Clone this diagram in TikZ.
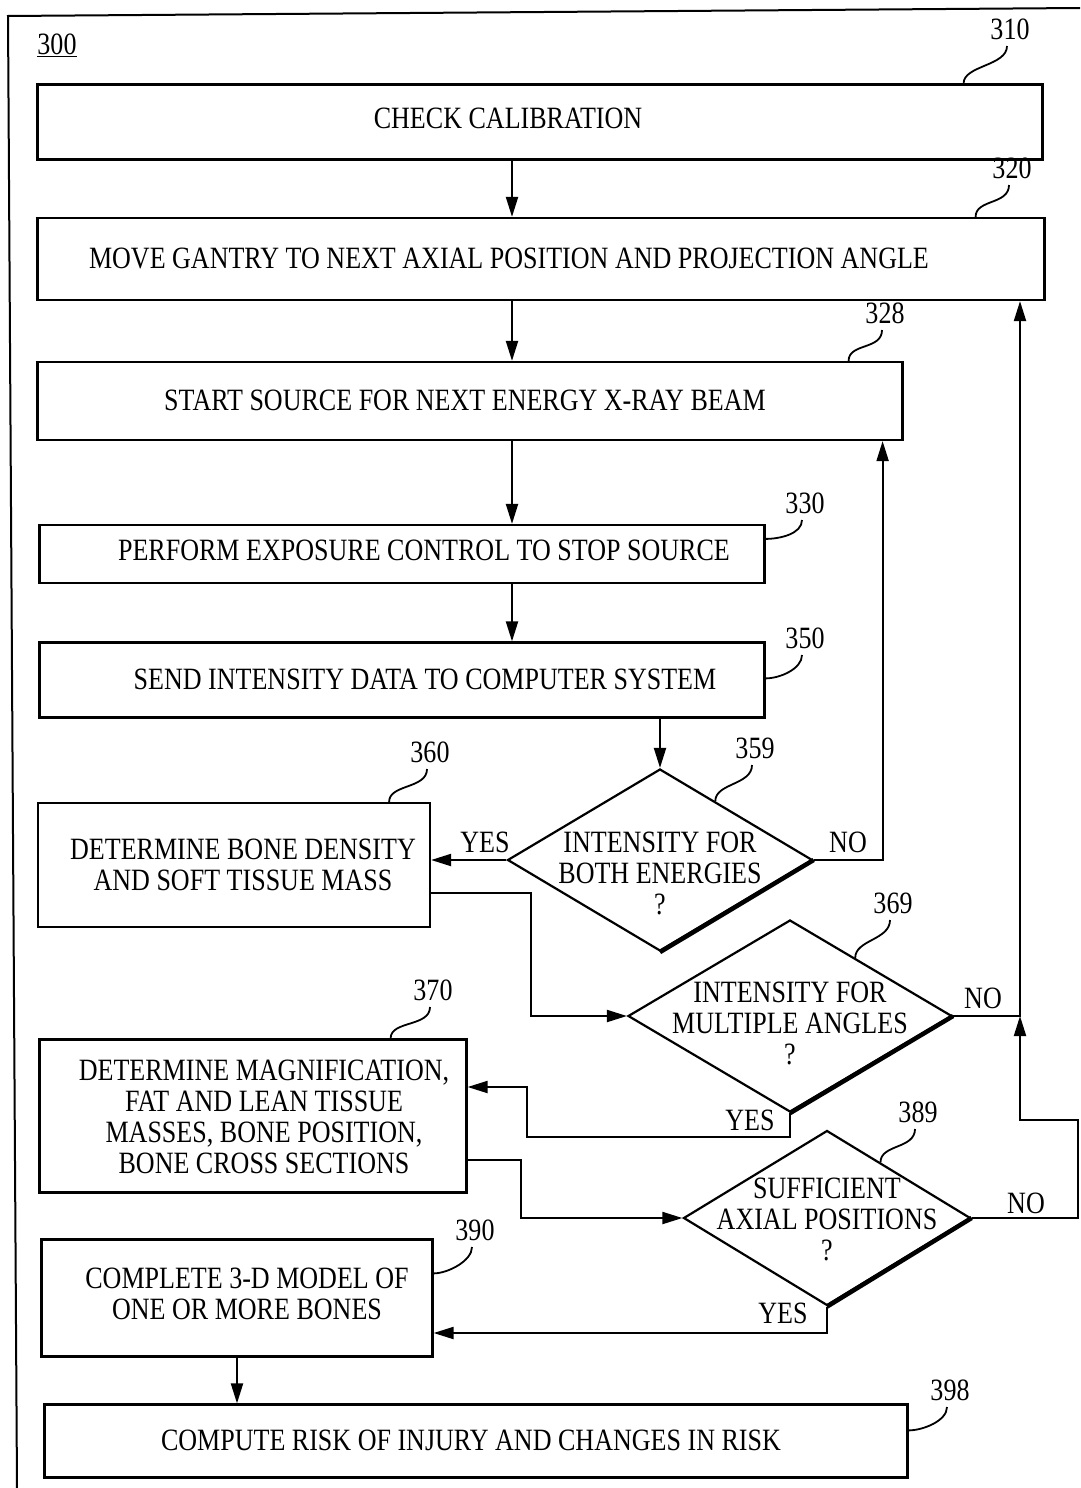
\documentclass[tikz,border=0pt]{standalone}
\usepackage{fontspec}
\setmainfont{Liberation Serif}[FakeStretch=0.84]
\usetikzlibrary{arrows.meta,shapes.geometric,calc}
\newcommand{\offtext}[3][0pt]{\makebox[0pt]{\hspace*{#2}\raisebox{#1}[\height][\depth]{\begin{tabular}{@{}c@{}}#3\end{tabular}}}}

\begin{document}
\begin{tikzpicture}[x=1pt,y=-1pt,
	every node/.style={font=\fontsize{31}{31}\selectfont},
	box/.style={draw,line width=2.2pt,inner sep=0pt},
	decide/.style={draw,diamond,line width=2.2pt,inner sep=0pt,aspect=1},
	num/.style={font=\fontsize{31}{31}\selectfont,inner sep=0pt},
	lead/.style={line width=1.8pt},
	arr/.style={line width=2pt,-{Triangle[length=20pt,width=12pt]}}]
	\useasboundingbox (0,0) rectangle (1080,1488);

	%FRAME
	\draw[line width=2pt] (1080,8) -- (8,16) -- (17,1488);
	\node[num] (l300) at (57,45) {\underline{300}};

	%BOXES
	\node[box,minimum width=1005pt,minimum height=75pt] (b310) at (540,122) {\offtext{-64pt}{CHECK CALIBRATION}};
	\node[box,minimum width=1007pt,minimum height=82pt] (b320) at (541,259) {\offtext[-3pt]{-64pt}{MOVE GANTRY TO NEXT AXIAL POSITION AND PROJECTION ANGLE}};
	\node[box,minimum width=865pt,minimum height=78pt] (b328) at (470,401) {\offtext[-3pt]{-10pt}{START SOURCE FOR NEXT ENERGY X-RAY BEAM}};
	\node[box,minimum width=725pt,minimum height=58pt] (b330) at (402,554) {\offtext{44pt}{PERFORM EXPOSURE CONTROL TO STOP SOURCE}};
	\node[box,minimum width=725pt,minimum height=75pt] (b350) at (402,680) {\offtext[-3pt]{46pt}{SEND INTENSITY DATA TO COMPUTER SYSTEM}};
	\node[box,minimum width=392pt,minimum height=124pt] (b360) at (234,865) {\offtext[-4pt]{18pt}{DETERMINE BONE DENSITY\\AND SOFT TISSUE MASS}};
	\node[box,minimum width=427pt,minimum height=153pt] (b370) at (253,1116) {\offtext[-5pt]{22pt}{DETERMINE MAGNIFICATION,\\FAT AND LEAN TISSUE\\MASSES, BONE POSITION,\\BONE CROSS SECTIONS}};
	\node[box,minimum width=391pt,minimum height=117pt] (b390) at (237,1298) {\offtext{20pt}{COMPLETE 3-D MODEL OF\\ONE OR MORE BONES}};
	\node[box,minimum width=863pt,minimum height=73pt] (b398) at (476,1441) {\offtext[-3pt]{-10pt}{COMPUTE RISK OF INJURY AND CHANGES IN RISK}};

	%DECISIONS
	\node[decide,minimum width=305pt,minimum height=182pt] (d359) at (660,860) {\offtext[-17pt]{0pt}{INTENSITY FOR\\BOTH ENERGIES\\?}};
	\node[decide,minimum width=324pt,minimum height=192pt] (d369) at (790,1016) {\offtext[-11pt]{0pt}{INTENSITY FOR\\MULTIPLE ANGLES\\?}};
	\node[decide,minimum width=287pt,minimum height=175pt] (d389) at (827,1218) {\offtext[-5pt]{0pt}{SUFFICIENT\\AXIAL POSITIONS\\?}};
	\draw[line width=4.5pt] (d359.east) -- (d359.south);	%heavy lower edges
	\draw[line width=4.5pt] (d369.east) -- (d369.south);
	\draw[line width=4.5pt] (d389.east) -- (d389.south);

	%ARROWS
	\coordinate (spine) at (512,0);
	\coordinate (rail) at (1020,0);
	\coordinate (turn) at (1078,1120);
	\draw[arr] (spine |- b310.south) -- (spine |- b320.north);
	\draw[arr] (spine |- b320.south) -- (spine |- b328.north);
	\draw[arr] (spine |- b328.south) -- (spine |- b330.north);
	\draw[arr] (spine |- b330.south) -- (spine |- b350.north);
	\draw[arr] (d359.north |- b350.south) -- (d359.north);
	\draw[arr] (d359.west) -- (d359.west -| b360.east);				%yes
	\draw[arr] (d359.east) -| ([xshift=-21pt]b328.south east);		%no
	\draw[arr] ([yshift=-28pt]b360.east) -- ++(100,0) |- (d369.west);
	\draw[arr] (d369.east) -| (rail |- b320.south);					%no
	\draw[arr] (d369.south) |- (527,1137) |- ([yshift=29pt]b370.east);	%yes
	\draw[arr] ([yshift=-44pt]b370.east) -- ++(53,0) |- (d389.west);
	\draw[arr] (d389.east) -| (turn) -| (rail |- d369.east);			%no
	\draw[arr] (d389.south) |- ([yshift=-35pt]b390.east);			%yes
	\draw[arr] (b390.south) -- (b390.south |- b398.north);

	%YES / NO
	\node (yes359) at (485,842) {YES};
	\node (no359) at (848,842) {NO};
	\node (no369) at (983,998) {NO};
	\node (yes369) at (750,1120) {YES};
	\node (no389) at (1026,1203) {NO};
	\node (yes389) at (783,1313) {YES};

	%REFERENCE NUMBERS
	\node[num] (l310) at (1010,29) {310};
	\draw[lead] ([xshift=-3pt,yshift=-17pt]l310.center) .. controls +(0,20) and +(0,-18) .. ([xshift=-80pt]b310.north east);
	\node[num] (l320) at (1012,168) {320};
	\draw[lead] ([xshift=-3pt,yshift=-17pt]l320.center) .. controls +(0,20) and +(0,-18) .. ([xshift=-70pt]b320.north east);
	\node[num] (l328) at (885,313) {328};
	\draw[lead] ([xshift=-3pt,yshift=-17pt]l328.center) .. controls +(0,20) and +(0,-18) .. ([xshift=-55pt]b328.north east);
	\node[num] (l330) at (805,503) {330};
	\draw[lead] ([xshift=-3pt,yshift=-17pt]l330.center) .. controls +(0,14) and +(14,0) .. ([yshift=-15pt]b330.north east);
	\node[num] (l350) at (805,638) {350};
	\draw[lead] ([xshift=-3pt,yshift=-17pt]l350.center) .. controls +(0,14) and +(14,0) .. ([yshift=-37pt]b350.north east);
	\node[num] (l359) at (755,748) {359};
	\draw[lead] ([xshift=-3pt,yshift=-17pt]l359.center) .. controls +(0,20) and +(0,-18) .. ($(d359.north)!0.36!(d359.east)$);
	\node[num] (l360) at (430,752) {360};
	\draw[lead] ([xshift=-3pt,yshift=-17pt]l360.center) .. controls +(0,20) and +(0,-18) .. ([xshift=-42pt]b360.north east);
	\node[num] (l369) at (893,903) {369};
	\draw[lead] ([xshift=-3pt,yshift=-17pt]l369.center) .. controls +(0,20) and +(0,-18) .. ($(d369.north)!0.4!(d369.east)$);
	\node[num] (l370) at (433,990) {370};
	\draw[lead] ([xshift=-3pt,yshift=-17pt]l370.center) .. controls +(0,20) and +(0,-18) .. ([xshift=-77pt]b370.north east);
	\node[num] (l389) at (918,1112) {389};
	\draw[lead] ([xshift=-3pt,yshift=-17pt]l389.center) .. controls +(0,20) and +(0,-18) .. ($(d389.north)!0.37!(d389.east)$);
	\node[num] (l390) at (475,1230) {390};
	\draw[lead] ([xshift=-3pt,yshift=-17pt]l390.center) .. controls +(0,14) and +(14,0) .. ([yshift=-35pt]b390.north east);
	\node[num] (l398) at (950,1390) {398};
	\draw[lead] ([xshift=-3pt,yshift=-17pt]l398.center) .. controls +(0,14) and +(14,0) .. ([yshift=-27pt]b398.north east);
\end{tikzpicture}
\end{document}
